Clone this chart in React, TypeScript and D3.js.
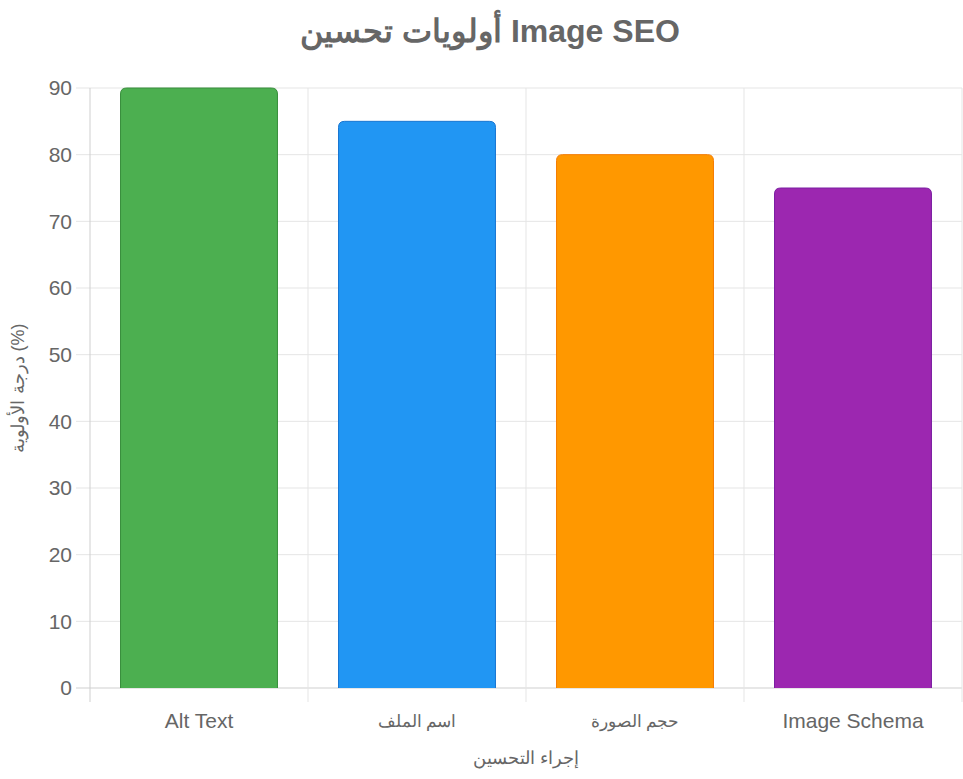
import React, { useEffect, useRef } from "react";
import * as d3 from "d3";

const categories: string[] = ["Alt Text", "اسم الملف", "حجم الصورة", "Image Schema"];
const priorities: number[] = [90, 85, 80, 75];
const fillColors: string[] = ["#4CAF50", "#2196F3", "#FF9800", "#9C27B0"];
const borderColors: string[] = ["#388E3C", "#1976D2", "#F57C00", "#7B1FA2"];
const yTicks: number[] = [0, 10, 20, 30, 40, 50, 60, 70, 80, 90];

const App: React.FC = () => {
    const svgRef = useRef<SVGSVGElement | null>(null);

    useEffect(() => {
        if (!svgRef.current) return;
        const svg = d3.select(svgRef.current);
        svg.selectAll("*").remove();

        const width = 963;
        const height = 779;
        const margin = { top: 88, right: 1, bottom: 91, left: 90 };
        const font = "'Helvetica Neue', Helvetica, Arial, 'Liberation Sans', sans-serif";
        const isArabic = (s: string) => /[\u0600-\u06FF]/.test(s);

        const x = d3
            .scaleBand()
            .domain(categories)
            .range([margin.left, width - margin.right]);

        const y = d3
            .scaleLinear()
            .domain([0, 90])
            .range([height - margin.bottom, margin.top]);

        // horizontal grid
        svg
            .append("g")
            .selectAll("line")
            .data(yTicks)
            .join("line")
            .attr("x1", margin.left - 14)
            .attr("x2", width - margin.right)
            .attr("y1", (d) => y(d))
            .attr("y2", (d) => y(d))
            .attr("stroke", (d) => (d === 0 ? "#cfcfcf" : "#e5e5e5"))
            .attr("stroke-width", 1);

        // vertical grid
        const edges = categories.map((c) => x(c)!).concat([width - margin.right]);
        svg
            .append("g")
            .selectAll("line")
            .data(edges)
            .join("line")
            .attr("x1", (d) => d)
            .attr("x2", (d) => d)
            .attr("y1", margin.top)
            .attr("y2", height - margin.bottom + 14)
            .attr("stroke", (d, i) => (i === 0 ? "#cfcfcf" : "#e5e5e5"))
            .attr("stroke-width", 1);

        // y tick labels
        svg
            .append("g")
            .selectAll("text")
            .data(yTicks)
            .join("text")
            .attr("x", margin.left - 18)
            .attr("y", (d) => y(d))
            .attr("dy", "0.35em")
            .attr("text-anchor", "end")
            .attr("fill", "#666")
            .attr("font-size", "21px")
            .style("font-family", font)
            .text((d) => d);

        // bars
        const barW = x.bandwidth() * 0.72;
        const r = 6;
        svg
            .append("g")
            .selectAll("path")
            .data(priorities)
            .join("path")
            .attr("d", (d, i) => {
                const x0 = x(categories[i])! + (x.bandwidth() - barW) / 2;
                const x1 = x0 + barW;
                const yt = y(d);
                const yb = y(0);
                return `M${x0},${yb} L${x0},${yt + r} Q${x0},${yt} ${x0 + r},${yt} L${x1 - r},${yt} Q${x1},${yt} ${x1},${yt + r} L${x1},${yb}`;
            })
            .attr("fill", (d, i) => fillColors[i])
            .attr("stroke", (d, i) => borderColors[i])
            .attr("stroke-width", 1);

        // x labels
        svg
            .append("g")
            .selectAll("text")
            .data(categories)
            .join("text")
            .attr("x", (d) => x(d)! + x.bandwidth() / 2)
            .attr("y", height - margin.bottom + 33)
            .attr("dy", "0.35em")
            .attr("text-anchor", "middle")
            .attr("fill", "#666")
            .attr("font-size", (d) => (isArabic(d) ? "17px" : "21px"))
            .style("font-family", font)
            .text((d) => d);

        // axis titles
        svg
            .append("text")
            .attr("x", (margin.left + width - margin.right) / 2)
            .attr("y", 758)
            .attr("dy", "0.35em")
            .attr("text-anchor", "middle")
            .attr("fill", "#666")
            .attr("font-size", "18px")
            .style("font-family", font)
            .text("إجراء التحسين");

        svg
            .append("text")
            .attr("transform", `translate(18,${(margin.top + height - margin.bottom) / 2}) rotate(-90)`)
            .attr("dy", "0.35em")
            .attr("text-anchor", "middle")
            .attr("fill", "#666")
            .attr("font-size", "18px")
            .style("font-family", font)
            .text("درجة الأولوية (%)");

        // title
        svg
            .append("text")
            .attr("x", 490)
            .attr("y", 31)
            .attr("dy", "0.35em")
            .attr("text-anchor", "middle")
            .attr("fill", "#666")
            .attr("font-size", "32px")
            .attr("font-weight", "bold")
            .style("font-family", font)
            .text("أولويات تحسين Image SEO");
    }, []);

    return (
        <svg
            ref={svgRef}
            width={963}
            height={779}
            style={{ position: "absolute", left: 0, top: 0, background: "#fff" }}
        ></svg>
    );
};

export default App;
